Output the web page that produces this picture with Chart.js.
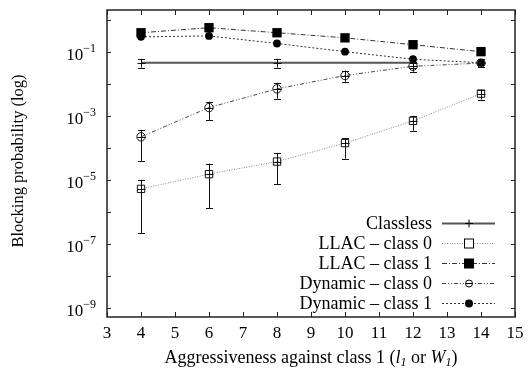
<!DOCTYPE html>
<html>
<head>
<meta charset="utf-8">
<script src="https://cdn.jsdelivr.net/npm/chart.js@4.4.1/dist/chart.umd.min.js"></script>
<style>
html,body{margin:0;padding:0;background:#fff;}
#wrap{width:528px;height:371px;position:relative;}
</style>
</head>
<body>
<div id="wrap"><canvas id="c"></canvas></div>
<script>
// ---- data ----
const xValues = [4, 6, 8, 10, 12, 14];
const classlessX = [4, 8, 12];
const classless = [0.045, 0.045, 0.045];
const classlessLo = [0.032, 0.032, 0.032];
const classlessHi = [0.06, 0.06, 0.06];
const llac0 = [5.2e-6, 1.5e-5, 3.7e-5, 1.4e-4, 6.9e-4, 4.9e-3];
const llac0Lo = [2.2e-7, 1.3e-6, 7.4e-6, 4.6e-5, 3.4e-4, 3.2e-3];
const llac0Hi = [1.0e-5, 3.2e-5, 6.9e-5, 2.0e-4, 1.0e-3, 6.5e-3];
const llac1 = [0.39, 0.56, 0.39, 0.27, 0.165, 0.1];
const dyn0 = [2.2e-4, 1.8e-3, 6.9e-3, 0.018, 0.035, 0.044];
const dyn0Lo = [3.9e-5, 7.4e-4, 3.4e-3, 0.0115, 0.0235, 0.033];
const dyn0Hi = [3.6e-4, 2.75e-3, 0.0107, 0.0257, 0.049, 0.058];
const dyn1 = [0.29, 0.31, 0.18, 0.1, 0.058, 0.045];
const seriesLabels = ['Classless', 'LLAC \u2013 class 0', 'LLAC \u2013 class 1', 'Dynamic \u2013 class 0', 'Dynamic \u2013 class 1'];
const xTicks = [3,4,5,6,7,8,9,10,11,12,13,14,15];
const yExponents = [-9,-8,-7,-6,-5,-4,-3,-2,-1,0];
const yLabelExponents = [-9,-7,-5,-3,-1];

const FONT = '"Liberation Serif", "DejaVu Serif", serif';
const pts = (xs, arr) => arr.map((v,i)=>({x:xs[i], y:v}));

const errSets = [
  {ds:0, lo:classlessLo, hi:classlessHi},
  {ds:1, lo:llac0Lo, hi:llac0Hi},
  {ds:3, lo:dyn0Lo, hi:dyn0Hi}
];

const datasets = [
  {label:seriesLabels[0], data:pts(classlessX, classless), borderColor:'#555', borderWidth:2, pointRadius:0, pointStyle:'cross', legendMarker:'plus'},
  {label:seriesLabels[1], data:pts(xValues, llac0), borderColor:'#888', borderWidth:1, borderDash:[1,1.5], pointStyle:'rect', pointRadius:5.2, pointBorderColor:'#111', pointBackgroundColor:'rgba(255,255,255,0)', pointBorderWidth:1, legendMarker:'osq'},
  {label:seriesLabels[2], data:pts(xValues, llac1), borderColor:'#333', borderWidth:1, borderDash:[5,2,1,2], pointStyle:'rect', pointRadius:6.6, pointBorderColor:'#000', pointBackgroundColor:'#000', pointBorderWidth:0, legendMarker:'fsq'},
  {label:seriesLabels[3], data:pts(xValues, dyn0), borderColor:'#444', borderWidth:1, borderDash:[4,2,1,2,1,2], pointStyle:'circle', pointRadius:4.2, pointBorderColor:'#111', pointBackgroundColor:'rgba(255,255,255,0)', pointBorderWidth:1, legendMarker:'oc'},
  {label:seriesLabels[4], data:pts(xValues, dyn1), borderColor:'#333', borderWidth:1, borderDash:[2,2], pointStyle:'circle', pointRadius:3.9, pointBorderColor:'#000', pointBackgroundColor:'#000', pointBorderWidth:0, legendMarker:'fc'}
];

function drawMarker(ctx, type, x, y){
  ctx.save();
  ctx.setLineDash([]);
  ctx.strokeStyle = '#000'; ctx.fillStyle = '#000'; ctx.lineWidth = 1;
  if (type==='plus'){ ctx.beginPath(); ctx.moveTo(x-4,y); ctx.lineTo(x+4,y); ctx.moveTo(x,y-4); ctx.lineTo(x,y+4); ctx.stroke(); }
  else if (type==='osq'){ ctx.fillStyle='#fff'; ctx.fillRect(x-4.5,y-4.5,9,9); ctx.strokeRect(x-4.5,y-4.5,9,9); }
  else if (type==='fsq'){ ctx.fillRect(x-5,y-5,10,10); }
  else if (type==='oc'){ ctx.beginPath(); ctx.arc(x,y,3.5,0,Math.PI*2); ctx.fillStyle='#fff'; ctx.fill(); ctx.stroke(); ctx.beginPath(); ctx.moveTo(x-3,y); ctx.lineTo(x+3,y); ctx.stroke(); }
  else if (type==='fc'){ ctx.beginPath(); ctx.arc(x,y,4,0,Math.PI*2); ctx.fill(); }
  ctx.restore();
}

const L = 107, R = 515, T = 10, B = 317;

const gnuplotPlugin = {
  id:'gnu',
  afterDatasetsDraw(chart){
    const ctx = chart.ctx, xs = chart.scales.x, ys = chart.scales.y;
    ctx.save();
    ctx.setLineDash([]);
    ctx.strokeStyle = '#111'; ctx.lineWidth = 1;
    errSets.forEach(es=>{
      const ds = chart.data.datasets[es.ds];
      ds.data.forEach((p,i)=>{
        const px = Math.round(xs.getPixelForValue(p.x))+0.5;
        const py = ys.getPixelForValue(p.y);
        const plo = ys.getPixelForValue(es.lo[i]);
        const phi = ys.getPixelForValue(es.hi[i]);
        ctx.beginPath();
        ctx.moveTo(px, plo); ctx.lineTo(px, phi);
        ctx.moveTo(px-3.5, Math.round(plo)+0.5); ctx.lineTo(px+3.5, Math.round(plo)+0.5);
        ctx.moveTo(px-3.5, Math.round(phi)+0.5); ctx.lineTo(px+3.5, Math.round(phi)+0.5);
        ctx.moveTo(px-4, Math.round(py)+0.5); ctx.lineTo(px+4, Math.round(py)+0.5);
        ctx.stroke();
      });
    });
    ctx.restore();
  },
  afterDraw(chart){
    const ctx = chart.ctx, xs = chart.scales.x, ys = chart.scales.y;
    const ca = chart.chartArea;
    ctx.save();
    ctx.setLineDash([]);
    ctx.strokeStyle = '#222'; ctx.lineWidth = 1.5;
    ctx.strokeRect(ca.left, ca.top, ca.right-ca.left, ca.bottom-ca.top);
    ctx.lineWidth = 1;
    ctx.beginPath();
    xTicks.forEach(v=>{
      const px = Math.round(xs.getPixelForValue(v))+0.5;
      ctx.moveTo(px, ca.bottom); ctx.lineTo(px, ca.bottom-5);
      ctx.moveTo(px, ca.top); ctx.lineTo(px, ca.top+5);
    });
    yExponents.forEach(e=>{
      const py = Math.round(ys.getPixelForValue(Math.pow(10,e)))+0.5;
      ctx.moveTo(ca.left, py); ctx.lineTo(ca.left+4, py);
      ctx.moveTo(ca.right, py); ctx.lineTo(ca.right-4, py);
    });
    ctx.stroke();
    // x tick labels
    ctx.fillStyle = '#000';
    ctx.font = '17px ' + FONT;
    ctx.textAlign = 'center'; ctx.textBaseline = 'middle';
    xTicks.forEach(v=>{ ctx.fillText(String(v), xs.getPixelForValue(v), ca.bottom+17); });
    // y tick labels
    yLabelExponents.forEach(e=>{
      const py = ys.getPixelForValue(Math.pow(10,e));
      const ex = '\u2212' + Math.abs(e);
      ctx.font = '12px ' + FONT;
      const ew = ctx.measureText(ex).width;
      ctx.textAlign = 'left'; ctx.textBaseline = 'alphabetic';
      const xr = ca.left - 11;
      ctx.fillText(ex, xr - ew, py);
      ctx.font = '17px ' + FONT;
      ctx.textAlign = 'right';
      ctx.fillText('10', xr - ew, py + 8);
    });
    // x title
    ctx.textBaseline = 'alphabetic';
    const parts = [
      {t:'Aggressiveness against class 1 (', f:'18px '+FONT, dy:0},
      {t:'l', f:'italic 18px '+FONT, dy:0},
      {t:'1', f:'italic 12px '+FONT, dy:3},
      {t:' or ', f:'18px '+FONT, dy:0},
      {t:'W', f:'italic 18px '+FONT, dy:0},
      {t:'1', f:'italic 12px '+FONT, dy:3},
      {t:')', f:'18px '+FONT, dy:0}
    ];
    let tw = 0;
    parts.forEach(p=>{ ctx.font = p.f; p.w = ctx.measureText(p.t).width; tw += p.w; });
    let cx = (ca.left+ca.right)/2 - tw/2;
    ctx.textAlign = 'left';
    parts.forEach(p=>{ ctx.font = p.f; ctx.fillText(p.t, cx, 363 + p.dy); cx += p.w; });
    // y title
    ctx.save();
    ctx.translate(19, 161);
    ctx.rotate(-Math.PI/2);
    ctx.font = '16.5px ' + FONT;
    ctx.textAlign = 'center'; ctx.textBaseline = 'middle';
    ctx.fillText('Blocking probability (log)', 0, 0);
    ctx.restore();
    // legend
    const rows = [223, 243, 263, 283, 303];
    chart.data.datasets.forEach((ds,i)=>{
      const y = rows[i];
      ctx.font = '18px ' + FONT;
      ctx.fillStyle = '#000';
      ctx.textAlign = 'right'; ctx.textBaseline = 'middle';
      ctx.fillText(ds.label, 432, y+1);
      ctx.save();
      ctx.strokeStyle = ds.borderColor; ctx.lineWidth = ds.borderWidth;
      ctx.setLineDash(ds.borderDash || []);
      ctx.beginPath(); ctx.moveTo(442, y+0.5); ctx.lineTo(495, y+0.5); ctx.stroke();
      ctx.restore();
      drawMarker(ctx, ds.legendMarker, 469, y+0.5);
    });
    ctx.restore();
  }
};

new Chart(document.getElementById('c'), {
  type:'line',
  data:{datasets},
  options:{
    responsive:true, maintainAspectRatio:false, animation:false,
    layout:{padding:{left:0, right:528-R, top:T, bottom:0}},
    plugins:{legend:{display:false}, tooltip:{enabled:false}},
    elements:{line:{tension:0}},
    scales:{
      x:{type:'linear', min:3, max:15,
        ticks:{display:false, stepSize:1}, grid:{display:false}, border:{display:false},
        afterFit(s){ s.height = 371 - B; }},
      y:{type:'logarithmic', min:5.2e-10, max:2.0,
        afterBuildTicks(s){ s.ticks = yExponents.map(e=>({value:Math.pow(10,e)})); },
        ticks:{display:false}, grid:{display:false}, border:{display:false},
        afterFit(s){ s.width = L; }}
    }
  },
  plugins:[gnuplotPlugin]
});
</script>
</body>
</html>
